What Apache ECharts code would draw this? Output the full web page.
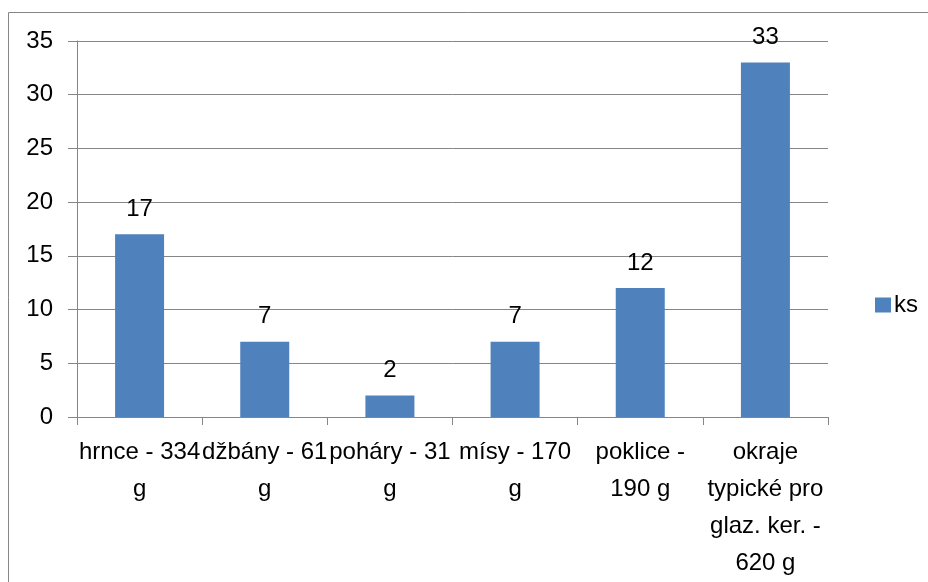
<!DOCTYPE html>
<html>
<head>
<meta charset="utf-8">
<script src="https://cdn.jsdelivr.net/npm/echarts@6/dist/echarts.min.js"></script>
<style>html,body{margin:0;padding:0;background:#fff;}#c{width:928px;height:582px;}</style>
</head>
<body>
<div id="c"></div>
<script>
var categories = ["hrnce - 334\ng", "džbány - 61\ng", "poháry - 31\ng", "mísy - 170\ng", "poklice -\n190 g", "okraje\ntypické pro\nglaz. ker. -\n620 g"];
var seriesName = "ks";
var values = [17, 7, 2, 7, 12, 33];
var yTicks = {min: 0, max: 35, interval: 5};

var FONT = '"Liberation Sans", Arial, sans-serif';
var chart = echarts.init(document.getElementById('c'), null, {renderer: 'canvas'});
chart.setOption({
  animation: false,
  backgroundColor: '#ffffff',
  graphic: [{
    type: 'rect',
    shape: {x: 8.5, y: 12.5, width: 1200, height: 1200},
    style: {fill: 'none', stroke: '#868686', lineWidth: 1},
    silent: true, z: -1
  }],
  grid: {left: 77, right: 100, top: 41, bottom: 160, containLabel: false},
  legend: {
    data: [seriesName],
    left: 870, top: 288,
    itemWidth: 16, itemHeight: 15, itemGap: 10,
    icon: 'rect',
    textStyle: {fontFamily: FONT, fontSize: 24, color: '#000', padding: [0,0,0,-2]}
  },
  xAxis: {
    type: 'category',
    data: categories,
    axisLine: {lineStyle: {color: '#868686', width: 1}},
    axisTick: {show: true, length: 8, lineStyle: {color: '#868686'}},
    axisLabel: {interval: 0, margin: 17, fontFamily: FONT, fontSize: 24, color: '#000', lineHeight: 37}
  },
  yAxis: {
    type: 'value',
    min: yTicks.min, max: yTicks.max, interval: yTicks.interval,
    axisLine: {show: true, lineStyle: {color: '#868686', width: 1}},
    axisTick: {show: true, length: 9, lineStyle: {color: '#868686'}},
    splitLine: {show: true, lineStyle: {color: '#868686', width: 1}},
    axisLabel: {margin: 24, fontFamily: FONT, fontSize: 24, color: '#000'}
  },
  series: [{
    name: seriesName,
    type: 'bar',
    data: values,
    barWidth: 49,
    itemStyle: {color: '#4F81BD'},
    label: {show: true, position: 'top', distance: 13, fontFamily: FONT, fontSize: 24, color: '#000'}
  }]
});
</script>
</body>
</html>
